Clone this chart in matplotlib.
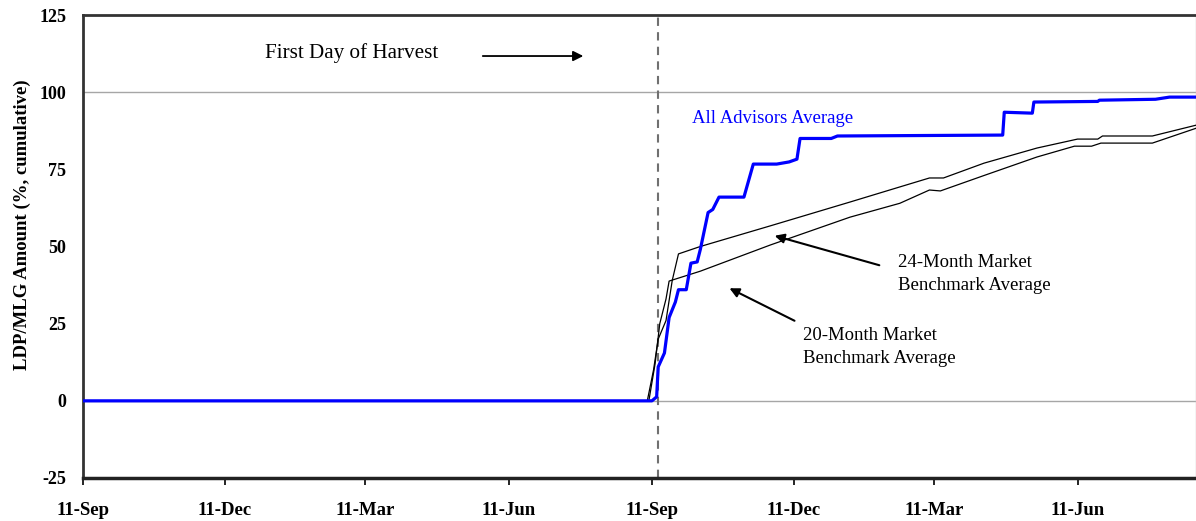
import matplotlib
matplotlib.use("Agg")
import matplotlib.pyplot as plt
import numpy as np
import pandas as pd

# ---- data ----
adv_dates = ["2000-09-11", "2001-09-11", "2001-09-14", "2001-09-15", "2001-09-19", "2001-09-22",
             "2001-09-26", "2001-09-28", "2001-10-03", "2001-10-06", "2001-10-10", "2001-10-12",
             "2001-10-17", "2001-10-20", "2001-10-24", "2001-11-09", "2001-11-15", "2001-11-30",
             "2001-12-08", "2001-12-13", "2001-12-15", "2002-01-04", "2002-01-08", "2002-04-24",
             "2002-04-25", "2002-05-13", "2002-05-14", "2002-06-24", "2002-06-25", "2002-07-31",
             "2002-08-09", "2002-08-26"]
adv_vals = [0, 0, 1.3, 11, 15.5, 27, 32, 36, 36, 44.6, 45, 49, 61, 62, 66, 66, 76.7, 76.7,
            77.4, 78.3, 85, 85, 85.8, 86.1, 93.5, 93.2, 96.8, 97, 97.4, 97.7, 98.4, 98.4]

b24_dates = ["2000-09-11", "2001-09-08", "2001-09-12", "2001-09-15", "2001-09-20", "2001-09-24",
             "2001-09-28", "2001-10-12", "2001-11-26", "2002-01-16", "2002-02-17", "2002-03-08",
             "2002-03-17", "2002-04-12", "2002-05-16", "2002-06-11", "2002-06-24", "2002-06-27",
             "2002-07-29", "2002-08-26"]
b24_vals = [0, 0, 10, 20, 26, 39, 47.6, 50, 56.7, 64.4, 69.3, 72.2, 72.2, 77, 81.9, 84.8,
            84.8, 85.8, 85.8, 89.3]

b20_dates = ["2000-09-11", "2001-09-09", "2001-09-13", "2001-09-16", "2001-09-20", "2001-09-22",
             "2001-10-12", "2001-11-26", "2002-01-16", "2002-02-17", "2002-03-08", "2002-03-15",
             "2002-04-12", "2002-05-16", "2002-06-09", "2002-06-20", "2002-06-26", "2002-07-29",
             "2002-08-26"]
b20_vals = [0, 0, 12, 25, 33, 38.8, 42, 50.5, 59.5, 64, 68.3, 68, 73, 79, 82.5, 82.5, 83.5,
            83.5, 88.3]

harvest_date = "2001-09-15"
tick_dates = ["2000-09-11", "2000-12-11", "2001-03-11", "2001-06-11",
              "2001-09-11", "2001-12-11", "2002-03-11", "2002-06-11"]
tick_labels = ["11-Sep", "11-Dec", "11-Mar", "11-Jun", "11-Sep", "11-Dec", "11-Mar", "11-Jun"]
y_ticks = [-25, 0, 25, 50, 75, 100, 125]
x_start, x_end = "2000-09-11", "2002-08-26"

# ---- figure ----
serif = "Liberation Serif"
fig = plt.figure(figsize=(11.96, 5.21), dpi=100)
ax = fig.add_axes([83 / 1196, 1 - 478 / 521, 1113 / 1196, 463 / 521])

ax.axhline(100, color="#a6a6a6", lw=1.0, zorder=1)
ax.axhline(0, color="#a6a6a6", lw=1.0, zorder=1)
ax.axvline(pd.Timestamp(harvest_date), color="#707070", lw=1.5, ls=(0, (4, 3)), zorder=2)

ax.plot(pd.to_datetime(b24_dates), b24_vals, color="black", lw=0.9, zorder=3)
ax.plot(pd.to_datetime(b20_dates), b20_vals, color="black", lw=0.9, zorder=3)
ax.plot(pd.to_datetime(adv_dates), adv_vals, color="#0000ff", lw=2.3, zorder=4)

ax.set_xlim(pd.Timestamp(x_start), pd.Timestamp(x_end))
ax.set_ylim(-25, 125)
ax.set_yticks(y_ticks)
ax.set_yticklabels([str(v) for v in y_ticks], fontfamily=serif, fontweight="bold", fontsize=13)
ax.set_xticks(pd.to_datetime(tick_dates))
ax.set_xticklabels(tick_labels, fontfamily=serif, fontweight="bold", fontsize=13.5)
ax.tick_params(axis="y", length=0, pad=12)
ax.tick_params(axis="x", direction="out", length=5, width=1.2, pad=12)

for s in ["left", "top"]:
    ax.spines[s].set_color("#333333")
    ax.spines[s].set_linewidth(2)
ax.spines["bottom"].set_color("#222222")
ax.spines["bottom"].set_linewidth(2.5)
ax.spines["right"].set_color("#c8c8c8")
ax.spines["right"].set_linewidth(1)

ax.set_ylabel("LDP/MLG Amount (%, cumulative)", fontfamily=serif, fontweight="bold",
              fontsize=13.5, va="center")
ax.yaxis.set_label_coords((22 - 83) / 1113, (478 - 225) / 463)

tf = ax.transAxes
ax.text(0.1635, 0.918, "First Day of Harvest", transform=tf, fontfamily=serif, fontsize=15.2,
        va="center", ha="left")
ax.annotate("", xy=(0.4520, 0.9114), xytext=(0.3567, 0.9114), xycoords=tf, textcoords=tf,
            arrowprops=dict(arrowstyle="-|>", color="black", lw=1.3, mutation_scale=15))
ax.text(0.547, 0.7775, "All Advisors Average", transform=tf, fontfamily=serif, fontsize=13.5,
        color="#0000ff", va="center", ha="left")
ax.text((898 - 83) / 1113, (478 - 274) / 463, "24-Month Market\nBenchmark Average", transform=tf,
        fontfamily=serif, fontsize=13.5, va="center", ha="left", linespacing=1.45)
ax.annotate("", xy=((772 - 83) / 1113, (478 - 235) / 463),
            xytext=((882 - 83) / 1113, (478 - 266) / 463), xycoords=tf, textcoords=tf,
            arrowprops=dict(arrowstyle="-|>", color="black", lw=1.5, mutation_scale=14))
ax.text((803 - 83) / 1113, (478 - 347) / 463, "20-Month Market\nBenchmark Average", transform=tf,
        fontfamily=serif, fontsize=13.5, va="center", ha="left", linespacing=1.45)
ax.annotate("", xy=((727 - 83) / 1113, (478 - 287) / 463),
            xytext=((797 - 83) / 1113, (478 - 322) / 463), xycoords=tf, textcoords=tf,
            arrowprops=dict(arrowstyle="-|>", color="black", lw=1.5, mutation_scale=14))

fig.savefig("out.png", dpi=100)
